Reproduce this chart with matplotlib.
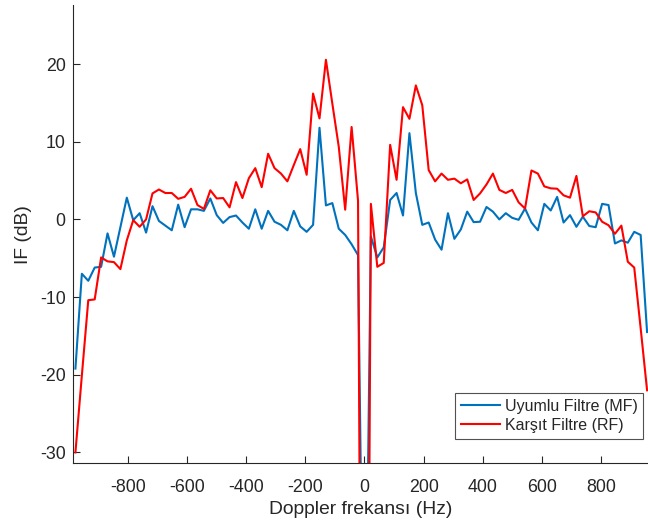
import numpy as np
import matplotlib
matplotlib.use("Agg")
import matplotlib.pyplot as plt

plt.rcParams['font.family'] = ['Liberation Sans', 'DejaVu Sans']
plt.rcParams['axes.unicode_minus'] = False

# Doppler bins: 90 bins across a 1953.125 Hz PRF, centred on zero
bin_index = np.arange(-45, 45)
doppler_hz = bin_index * 1953.125 / 90

# Improvement factor (dB), matched filter
if_mf = [
    -19.2, -7.0, -7.9, -6.2, -6.1, -1.8, -4.8, -1.0, 2.8, -0.1,
    0.8, -1.7, 1.7, -0.2, -0.8, -1.4, 1.9, -1.0, 1.3, 1.3,
    1.1, 2.7, 0.55, -0.45, 0.3, 0.5, -0.4, -1.2, 1.3, -1.2,
    1.1, -0.3, -0.7, -1.4, 1.1, -0.9, -1.6, -0.7, 11.8, 1.8,
    2.1, -1.2, -2.0, -3.2, -4.6, -70.0, -2.2, -4.9, -3.6, 2.5,
    3.4, 0.5, 11.1, 3.4, -0.7, -0.4, -2.6, -3.9, 0.8, -2.5,
    -1.3, 1.0, -0.35, -0.3, 1.6, 1.0, 0.0, 0.8, 0.2, -0.05,
    1.4, -0.4, -1.4, 2.0, 1.15, 2.9, -0.4, 0.55, -0.95, 0.35,
    -0.85, -1.0, 2.0, 1.85, -3.1, -2.7, -3.0, -1.6, -2.0, -14.5,
]

# Improvement factor (dB), mismatched filter
if_rf = [
    -30.0, -20.1, -10.4, -10.3, -4.9, -5.4, -5.5, -6.4, -2.7, -0.1,
    -0.95, 0.0, 3.35, 3.85, 3.4, 3.4, 2.65, 2.9, 3.95, 1.85,
    1.35, 3.75, 2.7, 2.75, 1.55, 4.8, 2.75, 5.3, 6.6, 4.15,
    8.45, 6.6, 5.9, 4.9, 7.0, 9.05, 5.75, 16.2, 13.0, 20.55,
    14.9, 9.35, 1.25, 11.9, 2.4, -150.0, 2.0, -6.1, -5.6, 9.6,
    5.1, 14.45, 12.95, 17.25, 14.7, 6.35, 4.9, 5.9, 5.1, 5.25,
    4.65, 5.15, 2.5, 3.35, 4.5, 5.9, 3.8, 3.4, 3.8, 2.2,
    1.4, 6.3, 5.9, 4.25, 4.0, 3.95, 3.1, 2.8, 5.6, 0.4,
    1.05, 0.9, -0.3, -0.75, -1.85, -0.8, -5.45, -6.2, -14.0, -22.0,
]

series_labels = ['Uyumlu Filtre (MF)', 'Karşıt Filtre (RF)']
x_ticks = [-800, -600, -400, -200, 0, 200, 400, 600, 800]
y_ticks = [-30, -20, -10, 0, 10, 20]

axis_col = '#262626'

fig = plt.figure(figsize=(6.48, 5.28), dpi=100)
ax = fig.add_axes([0.113, 0.1225, 0.887, 0.868])

ax.plot(doppler_hz, if_mf, color='#0072BD', lw=1.5, label=series_labels[0])
ax.plot(doppler_hz, if_rf, color='#FF0000', lw=1.5, label=series_labels[1])

ax.set_xlim(-984, 958)
ax.set_ylim(-31.4, 27.6)
ax.set_xticks(x_ticks)
ax.set_yticks(y_ticks)

for side in ('top', 'right'):
    ax.spines[side].set_visible(False)
for side in ('left', 'bottom'):
    ax.spines[side].set_color(axis_col)
    ax.spines[side].set_linewidth(0.8)

ax.tick_params(direction='in', length=5, width=0.8, colors=axis_col,
               labelsize=12.8, labelcolor=axis_col)
ax.tick_params(axis='x', pad=11)
ax.tick_params(axis='y', pad=5.5)

ax.set_xlabel('Doppler frekansı (Hz)', fontsize=13.9, color=axis_col,
              labelpad=4)
ax.set_ylabel('IF (dB)', fontsize=13.9, color=axis_col, labelpad=6)

leg = ax.legend(loc='lower right', bbox_to_anchor=(0.992, 0.054),
                fontsize=11.5, frameon=True, fancybox=False,
                handlelength=2.45, handletextpad=0.3, borderpad=0.35,
                labelspacing=0.25, borderaxespad=0)
leg.get_frame().set_edgecolor(axis_col)
leg.get_frame().set_linewidth(0.8)
for t in leg.get_texts():
    t.set_color(axis_col)

fig.savefig('out.png', dpi=100)
